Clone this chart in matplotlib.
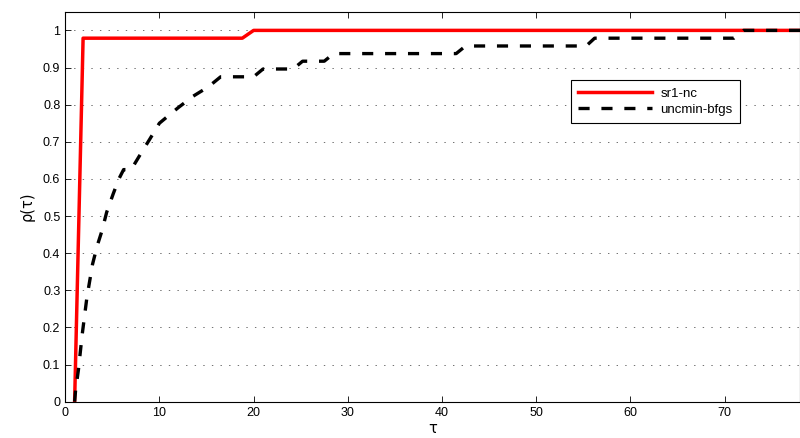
import numpy as np
import matplotlib
matplotlib.use("Agg")
import matplotlib.pyplot as plt

# performance profile data
sr1_tau = [1.0, 1.9, 18.8, 20.0, 78.0]
sr1_rho = [0.0, 0.979, 0.979, 1.0, 1.0]

bfgs_tau = [1.0, 1.1, 1.4, 1.8, 2.3, 2.9, 3.4, 3.9, 4.4, 5.1, 5.7, 6.2, 7.0,
            8.0, 9.0, 10.0, 12.0, 13.6, 15.2, 16.5, 20.0, 21.0, 24.2, 25.2,
            27.5, 28.5, 41.5, 42.5, 55.3, 56.2, 71.0, 72.0, 78.0]
bfgs_rho = [0.0, 0.03, 0.085, 0.18, 0.28, 0.37, 0.42, 0.46, 0.51, 0.56, 0.6,
            0.625, 0.625, 0.667, 0.708, 0.75, 0.792, 0.823, 0.848, 0.875,
            0.875, 0.896, 0.896, 0.917, 0.917, 0.9375, 0.9375, 0.958, 0.958,
            0.979, 0.979, 1.0, 1.0]

labels = ["sr1-nc", "uncmin-bfgs"]
xticks = [0, 10, 20, 30, 40, 50, 60, 70]
yticks = [0, 0.1, 0.2, 0.3, 0.4, 0.5, 0.6, 0.7, 0.8, 0.9, 1]
ytick_labels = ["0", "0.1", "0.2", "0.3", "0.4", "0.5", "0.6", "0.7", "0.8", "0.9", "1"]

plt.rcParams["font.family"] = ["Liberation Sans", "DejaVu Sans"]
plt.rcParams["lines.scale_dashes"] = False

fig = plt.figure(figsize=(8, 4.38), dpi=100)
ax = fig.add_axes([0.0815, 0.083, 0.9185, 0.890])

ax.plot(sr1_tau, sr1_rho, color="red", lw=2.5, label=labels[0], zorder=3)
ax.plot(bfgs_tau, bfgs_rho, color="black", lw=2.4, linestyle=(0, (8, 8.5)),
        label=labels[1], zorder=4)

ax.set_xlim(0, 78)
ax.set_ylim(0, 1.05)
ax.set_xticks(xticks)
ax.set_yticks(yticks)
ax.set_yticklabels(ytick_labels)
ax.tick_params(direction="in", length=4, width=0.6, labelsize=9,
               top=True, right=False, colors="black")
ax.tick_params(axis="x", pad=4)

ax.yaxis.grid(True, linestyle=(0, (1, 5.2)), color="0.35", lw=0.6)
ax.set_axisbelow(True)
for s in ax.spines.values():
    s.set_linewidth(0.8)

ax.set_xlabel("τ", fontsize=10.5, labelpad=1, family=["DejaVu Sans"])
ax.set_ylabel("ρ(τ)", fontsize=10.5, labelpad=6, family=["DejaVu Sans"])

leg = ax.legend(loc="upper right", bbox_to_anchor=(0.918, 0.825),
                borderaxespad=0, fontsize=9.5, handlelength=5.6,
                borderpad=0.55, labelspacing=0.32, handletextpad=0.6,
                fancybox=False, framealpha=1, edgecolor="black")
leg.get_frame().set_linewidth(0.8)

fig.savefig("out.png", dpi=100)
